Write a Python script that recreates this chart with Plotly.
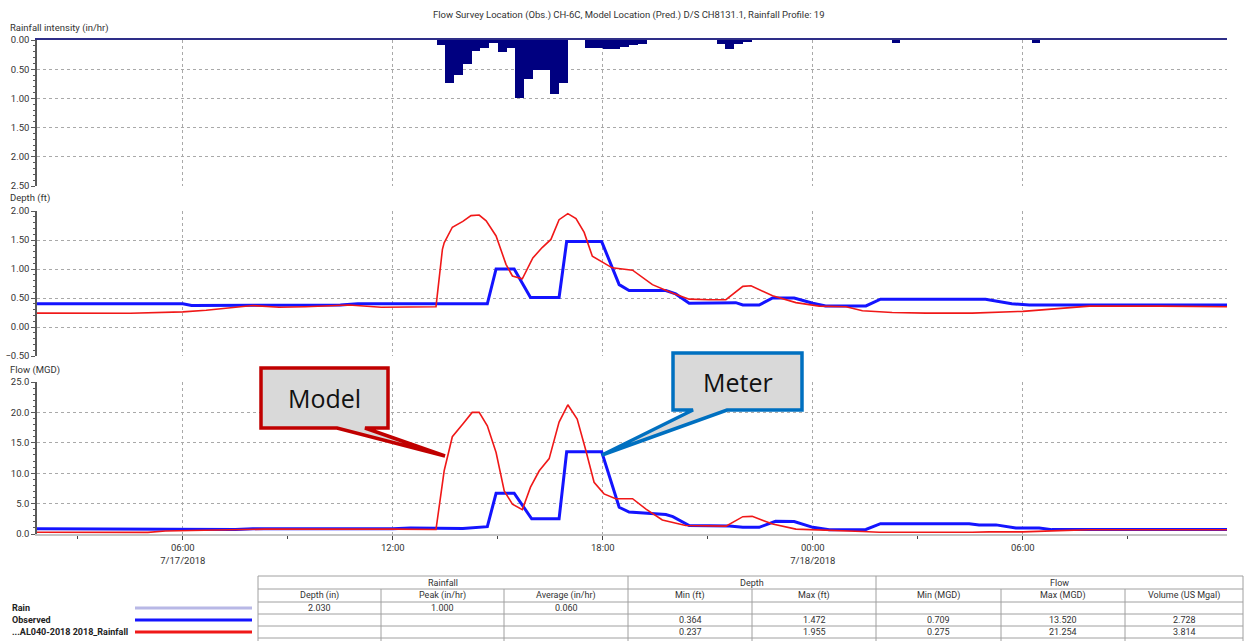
import plotly.graph_objects as go

W, H = 1244, 641


def px(x):
    return x / W


def py(y):
    return 1 - y / H


# ---------------- data ----------------
# Rainfall intensity, 15-minute bins (bin start, in/hr)
rain_time = [
    "2018-07-17 13:15", "2018-07-17 13:30", "2018-07-17 13:45", "2018-07-17 14:00",
    "2018-07-17 14:15", "2018-07-17 14:30", "2018-07-17 14:45", "2018-07-17 15:00",
    "2018-07-17 15:15", "2018-07-17 15:30", "2018-07-17 15:45", "2018-07-17 16:00",
    "2018-07-17 16:15", "2018-07-17 16:30", "2018-07-17 16:45", "2018-07-17 17:30",
    "2018-07-17 17:45", "2018-07-17 18:00", "2018-07-17 18:15", "2018-07-17 18:30",
    "2018-07-17 18:45", "2018-07-17 19:00", "2018-07-17 21:15", "2018-07-17 21:30",
    "2018-07-17 21:45", "2018-07-17 22:00", "2018-07-18 02:15", "2018-07-18 06:15",
]
rain_intensity = [
    0.09, 0.74, 0.60, 0.41,
    0.19, 0.13, 0.05, 0.20,
    0.13, 1.00, 0.66, 0.51,
    0.51, 0.92, 0.73, 0.13,
    0.13, 0.16, 0.16, 0.12,
    0.09, 0.06, 0.07, 0.16,
    0.07, 0.04, 0.05, 0.05,
]

# Observed depth (ft)
obs_depth_time = [
    "2018-07-17 01:50", "2018-07-17 06:00", "2018-07-17 06:15", "2018-07-17 10:30",
    "2018-07-17 11:00", "2018-07-17 14:42", "2018-07-17 14:57", "2018-07-17 15:28",
    "2018-07-17 15:56", "2018-07-17 16:45", "2018-07-17 16:58", "2018-07-17 17:58",
    "2018-07-17 18:28", "2018-07-17 18:45", "2018-07-17 19:48", "2018-07-17 20:05",
    "2018-07-17 20:28", "2018-07-17 21:48", "2018-07-17 22:00", "2018-07-17 22:28",
    "2018-07-17 22:51", "2018-07-17 23:28", "2018-07-18 00:00", "2018-07-18 00:22",
    "2018-07-18 01:31", "2018-07-18 01:56", "2018-07-18 04:56", "2018-07-18 05:41",
    "2018-07-18 06:11", "2018-07-18 11:50",
]
obs_depth = [
    0.40, 0.40, 0.37, 0.38,
    0.40, 0.40, 1.00, 1.00,
    0.51, 0.51, 1.472, 1.472,
    0.73, 0.63, 0.63, 0.57,
    0.41, 0.42, 0.38, 0.38,
    0.50, 0.50, 0.41, 0.364,
    0.364, 0.48, 0.48, 0.40,
    0.38, 0.38,
]

# Model depth (ft)
mod_depth_time = [
    "2018-07-17 01:50", "2018-07-17 04:30", "2018-07-17 06:00", "2018-07-17 06:40",
    "2018-07-17 08:00", "2018-07-17 08:45", "2018-07-17 09:30", "2018-07-17 10:45",
    "2018-07-17 11:40", "2018-07-17 13:14", "2018-07-17 13:25", "2018-07-17 13:28",
    "2018-07-17 13:42", "2018-07-17 14:00", "2018-07-17 14:14", "2018-07-17 14:28",
    "2018-07-17 14:40", "2018-07-17 14:57", "2018-07-17 15:14", "2018-07-17 15:25",
    "2018-07-17 15:42", "2018-07-17 16:00", "2018-07-17 16:16", "2018-07-17 16:31",
    "2018-07-17 16:45", "2018-07-17 17:00", "2018-07-17 17:14", "2018-07-17 17:28",
    "2018-07-17 17:42", "2018-07-17 18:00", "2018-07-17 18:16", "2018-07-17 18:51",
    "2018-07-17 19:25", "2018-07-17 20:00", "2018-07-17 20:28", "2018-07-17 21:02",
    "2018-07-17 21:31", "2018-07-17 22:00", "2018-07-17 22:14", "2018-07-17 22:51",
    "2018-07-17 23:31", "2018-07-18 00:11", "2018-07-18 00:57", "2018-07-18 01:25",
    "2018-07-18 01:54", "2018-07-18 02:16", "2018-07-18 03:14", "2018-07-18 04:33",
    "2018-07-18 06:00", "2018-07-18 07:54", "2018-07-18 09:54", "2018-07-18 11:50",
]
mod_depth = [
    0.24, 0.237, 0.26, 0.29,
    0.37, 0.34, 0.35, 0.38,
    0.34, 0.35, 1.34, 1.45,
    1.72, 1.82, 1.92, 1.93,
    1.83, 1.57, 1.08, 0.88,
    0.83, 1.19, 1.37, 1.51,
    1.85, 1.955, 1.87, 1.63,
    1.22, 1.11, 1.02, 0.98,
    0.73, 0.58, 0.48, 0.47,
    0.47, 0.70, 0.71, 0.54,
    0.42, 0.36, 0.35, 0.28,
    0.26, 0.25, 0.24, 0.24,
    0.27, 0.36, 0.36, 0.35,
]

# Observed flow (MGD)
obs_flow_time = [
    "2018-07-17 01:50", "2018-07-17 05:00", "2018-07-17 06:00", "2018-07-17 07:30",
    "2018-07-17 08:00", "2018-07-17 12:00", "2018-07-17 12:30", "2018-07-17 13:14",
    "2018-07-17 14:00", "2018-07-17 14:42", "2018-07-17 14:57", "2018-07-17 15:28",
    "2018-07-17 15:58", "2018-07-17 16:45", "2018-07-17 16:58", "2018-07-17 17:58",
    "2018-07-17 18:28", "2018-07-17 18:45", "2018-07-17 19:48", "2018-07-17 20:00",
    "2018-07-17 20:28", "2018-07-17 21:37", "2018-07-17 22:00", "2018-07-17 22:28",
    "2018-07-17 22:56", "2018-07-17 23:28", "2018-07-18 00:00", "2018-07-18 00:28",
    "2018-07-18 01:31", "2018-07-18 01:56", "2018-07-18 04:28", "2018-07-18 04:45",
    "2018-07-18 05:14", "2018-07-18 05:48", "2018-07-18 06:28", "2018-07-18 06:50",
    "2018-07-18 11:50",
]
obs_flow = [
    0.85, 0.80, 0.75, 0.75,
    0.85, 0.85, 1.00, 0.95,
    0.90, 1.20, 6.70, 6.70,
    2.50, 2.50, 13.52, 13.52,
    4.40, 3.60, 3.20, 2.85,
    1.40, 1.30, 1.10, 1.10,
    2.10, 2.05, 1.10, 0.709,
    0.75, 1.70, 1.70, 1.50,
    1.50, 1.00, 1.00, 0.72,
    0.75,
]

# Model flow (MGD)
mod_flow_time = [
    "2018-07-17 01:50", "2018-07-17 05:00", "2018-07-17 05:30", "2018-07-17 07:25",
    "2018-07-17 08:20", "2018-07-17 12:00", "2018-07-17 13:14", "2018-07-17 13:28",
    "2018-07-17 13:42", "2018-07-17 14:00", "2018-07-17 14:16", "2018-07-17 14:28",
    "2018-07-17 14:42", "2018-07-17 14:57", "2018-07-17 15:11", "2018-07-17 15:25",
    "2018-07-17 15:42", "2018-07-17 15:56", "2018-07-17 16:11", "2018-07-17 16:28",
    "2018-07-17 16:45", "2018-07-17 17:00", "2018-07-17 17:16", "2018-07-17 17:31",
    "2018-07-17 17:45", "2018-07-17 18:02", "2018-07-17 18:22", "2018-07-17 18:51",
    "2018-07-17 19:14", "2018-07-17 19:42", "2018-07-17 20:22", "2018-07-17 21:31",
    "2018-07-17 22:00", "2018-07-17 22:16", "2018-07-17 22:51", "2018-07-17 23:31",
    "2018-07-18 00:16", "2018-07-18 01:25", "2018-07-18 01:54", "2018-07-18 02:45",
    "2018-07-18 04:33", "2018-07-18 05:02", "2018-07-18 06:00", "2018-07-18 07:02",
    "2018-07-18 07:54", "2018-07-18 11:50",
]
mod_flow = [
    0.28, 0.275, 0.50, 0.70,
    0.80, 0.80, 0.75, 10.4,
    16.0, 18.1, 20.0, 20.0,
    17.8, 13.4, 7.1, 4.9,
    4.0, 7.7, 10.4, 12.4,
    18.4, 21.254, 18.9, 13.7,
    8.5, 6.6, 5.8, 5.8,
    4.1, 2.3, 1.4, 1.3,
    2.85, 2.9, 1.65, 0.8,
    0.6, 0.4, 0.3, 0.28,
    0.28, 0.35, 0.35, 0.55,
    0.70, 0.70,
]

# Summary values
rain_total_depth = 2.030
rain_average = 0.060
obs_volume = 2.728
mod_volume = 3.814

series_names = ["Rain", "Observed", "...AL040-2018 2018_Rainfall"]

x_range = ["2018-07-17 01:50", "2018-07-18 11:50"]
x_ticks = ["2018-07-17 06:00", "2018-07-17 12:00", "2018-07-17 18:00",
           "2018-07-18 00:00", "2018-07-18 06:00"]
x_tick_text = ["06:00<br>7/17/2018", "12:00", "18:00", "00:00<br>7/18/2018", "06:00"]

# ---------------- styling ----------------
FONT = "Roboto"
TXT = "#333333"
GRID = "#a9a9a9"
BLUE = "#1414ff"
RED = "#f01818"
NAVY = "#000080"

fig = go.Figure()

fig.add_trace(go.Bar(
    x=rain_time, y=rain_intensity, width=15 * 60 * 1000, offset=0,
    marker=dict(color=NAVY, line=dict(width=0)),
    xaxis="x", yaxis="y", name=series_names[0], showlegend=False,
))
fig.add_trace(go.Scatter(
    x=obs_depth_time, y=obs_depth, mode="lines",
    line=dict(color=BLUE, width=3), xaxis="x2", yaxis="y2", showlegend=False,
))
fig.add_trace(go.Scatter(
    x=mod_depth_time, y=mod_depth, mode="lines",
    line=dict(color=RED, width=1.6), xaxis="x2", yaxis="y2", showlegend=False,
))
fig.add_trace(go.Scatter(
    x=obs_flow_time, y=obs_flow, mode="lines",
    line=dict(color=BLUE, width=3), xaxis="x3", yaxis="y3", showlegend=False,
))
fig.add_trace(go.Scatter(
    x=mod_flow_time, y=mod_flow, mode="lines",
    line=dict(color=RED, width=1.6), xaxis="x3", yaxis="y3", showlegend=False,
))

x_dom = [px(37), px(1227)]
tick_font = dict(family=FONT, size=9.5, color=TXT)

common_x = dict(
    domain=x_dom, range=x_range, type="date",
    tickmode="array", tickvals=x_ticks, ticktext=x_tick_text,
    showgrid=True, gridcolor=GRID, griddash="dot", gridwidth=1,
    zeroline=False, fixedrange=True, automargin=False,
)

common_y = dict(
    showline=True, linecolor="#5a5a5a", linewidth=1.5,
    ticks="outside", ticklen=4, tickcolor="#5a5a5a",
    showgrid=True, gridcolor=GRID, griddash="dot", gridwidth=1,
    zeroline=False, tickfont=tick_font, fixedrange=True, automargin=False,
)

fig.update_layout(
    width=W, height=H,
    margin=dict(l=0, r=0, t=0, b=0, pad=0, autoexpand=False),
    paper_bgcolor="white", plot_bgcolor="white",
    bargap=0, showlegend=False,
    xaxis=dict(common_x, anchor="y", side="top", showline=True,
               linecolor="#2e2e88", linewidth=2, ticks="", showticklabels=False),
    xaxis2=dict(common_x, anchor="y2", matches="x", showline=False,
                ticks="", showticklabels=False),
    xaxis3=dict(common_x, anchor="y3", matches="x", showline=True,
                linecolor="#c4c4c4", linewidth=1.5,
                ticks="outside", ticklen=4, tickcolor="#444444",
                tickfont=tick_font,
                minor=dict(ticks="outside", ticklen=3, tickcolor="#444444",
                           tickmode="linear", dtick=3 * 3600 * 1000,
                           tick0="2018-07-17 00:00", showgrid=False)),
    yaxis=dict(common_y, anchor="x", domain=[py(186), py(40)],
               range=[2.5, 0], tickvals=[0, 0.5, 1.0, 1.5, 2.0, 2.5],
               tickformat=".2f",
               minor=dict(ticks="outside", ticklen=2, tickcolor="#5a5a5a",
                          dtick=0.1, showgrid=False)),
    yaxis2=dict(common_y, anchor="x2", domain=[py(356), py(211)],
                range=[-0.5, 2.0], tickvals=[-0.5, 0, 0.5, 1.0, 1.5, 2.0],
                tickformat=".2f",
                minor=dict(ticks="outside", ticklen=2, tickcolor="#5a5a5a",
                           dtick=0.1, showgrid=False)),
    yaxis3=dict(common_y, anchor="x3", domain=[py(534), py(382)],
                range=[0, 25], tickvals=[0, 5, 10, 15, 20, 25],
                tickformat=".1f",
                minor=dict(ticks="outside", ticklen=2, tickcolor="#5a5a5a",
                           dtick=1, showgrid=False)),
)

annotations = []
shapes = []


def text(x, y, s, size=9.5, anchor="center", color=TXT, family=FONT, bold=False):
    annotations.append(dict(
        x=px(x), y=py(y), xref="paper", yref="paper", text=f"<b>{s}</b>" if bold else s,
        showarrow=False, xanchor=anchor, yanchor="middle",
        font=dict(family=family, size=size, color=color),
    ))


def hline(x0, x1, y, color="#a0a0a0", width=1):
    shapes.append(dict(type="line", xref="paper", yref="paper",
                       x0=px(x0), x1=px(x1), y0=py(y), y1=py(y),
                       line=dict(color=color, width=width)))


def vline(x, y0, y1, color="#a0a0a0", width=1):
    shapes.append(dict(type="line", xref="paper", yref="paper",
                       x0=px(x), x1=px(x), y0=py(y0), y1=py(y1),
                       line=dict(color=color, width=width)))


# Chart title and panel captions
text(629, 15, "Flow Survey Location (Obs.) CH-6C, Model Location (Pred.) D/S CH8131.1, Rainfall Profile: 19")
text(8, 28, "Rainfall intensity (in/hr)", anchor="left")
text(8, 198, "Depth (ft)", anchor="left")
text(8, 370, "Flow (MGD)", anchor="left")


# Callout boxes
def callout(x0, y0, x1, y1, b0, b1, tip, border, label):
    pts = [(x0, y0), (x1, y0), (x1, y1), (b1, y1), tip, (b0, y1), (x0, y1)]
    path = "M " + " L ".join(f"{px(a):.5f},{py(b):.5f}" for a, b in pts) + " Z"
    shapes.append(dict(type="path", xref="paper", yref="paper", path=path,
                       fillcolor="#d9d9d9", line=dict(color=border, width=3.5)))
    text((x0 + x1) / 2, (y0 + y1) / 2, label, size=25, color="#111111", family="Open Sans")


callout(261, 368, 388, 428, 337, 365, (445, 456), "#c00000", "Model")
callout(673, 353, 802, 410, 693, 727, (602, 455), "#0070c0", "Meter")

# Summary table
tl, tr = 258, 1243
rows = [576, 589, 602, 614, 626, 638]
for y in rows:
    hline(tl, tr, y)
for x in [tl, 628, 876, tr]:
    vline(x, rows[0], 641)
for x in [381, 504, 752, 1001, 1125]:
    vline(x, rows[1], 641)

col_edges = [258, 381, 504, 628, 752, 876, 1001, 1125, 1243]
col_mid = [(col_edges[i] + col_edges[i + 1]) / 2 for i in range(8)]
row_mid = [(rows[i] + rows[i + 1]) / 2 for i in range(5)]

text((258 + 628) / 2, row_mid[0], "Rainfall", size=9)
text((628 + 876) / 2, row_mid[0], "Depth", size=9)
text((876 + 1243) / 2, row_mid[0], "Flow", size=9)

sub_headers = ["Depth (in)", "Peak (in/hr)", "Average (in/hr)", "Min (ft)", "Max (ft)",
               "Min (MGD)", "Max (MGD)", "Volume (US Mgal)"]
for cx, s in zip(col_mid, sub_headers):
    text(cx, row_mid[1], s, size=9)

rain_row = [rain_total_depth, max(rain_intensity), rain_average]
for cx, v in zip(col_mid[:3], rain_row):
    text(cx, row_mid[2], f"{v:.3f}", size=9)

obs_row = [min(obs_depth), max(obs_depth), min(obs_flow), max(obs_flow), obs_volume]
mod_row = [min(mod_depth), max(mod_depth), min(mod_flow), max(mod_flow), mod_volume]
for cx, v in zip(col_mid[3:], obs_row):
    text(cx, row_mid[3], f"{v:.3f}", size=9)
for cx, v in zip(col_mid[3:], mod_row):
    text(cx, row_mid[4], f"{v:.3f}", size=9)

# Series key beside the table
key_colors = ["#b8b8e6", BLUE, RED]
key_widths = [3, 3, 3]
for i, (name, c, w) in enumerate(zip(series_names, key_colors, key_widths)):
    y = row_mid[2 + i]
    text(10, y, name, size=9, anchor="left", bold=True, color="#222222")
    hline(135, 252, y, color=c, width=w)

fig.update_layout(annotations=annotations, shapes=shapes)

fig.write_html("out.html")
